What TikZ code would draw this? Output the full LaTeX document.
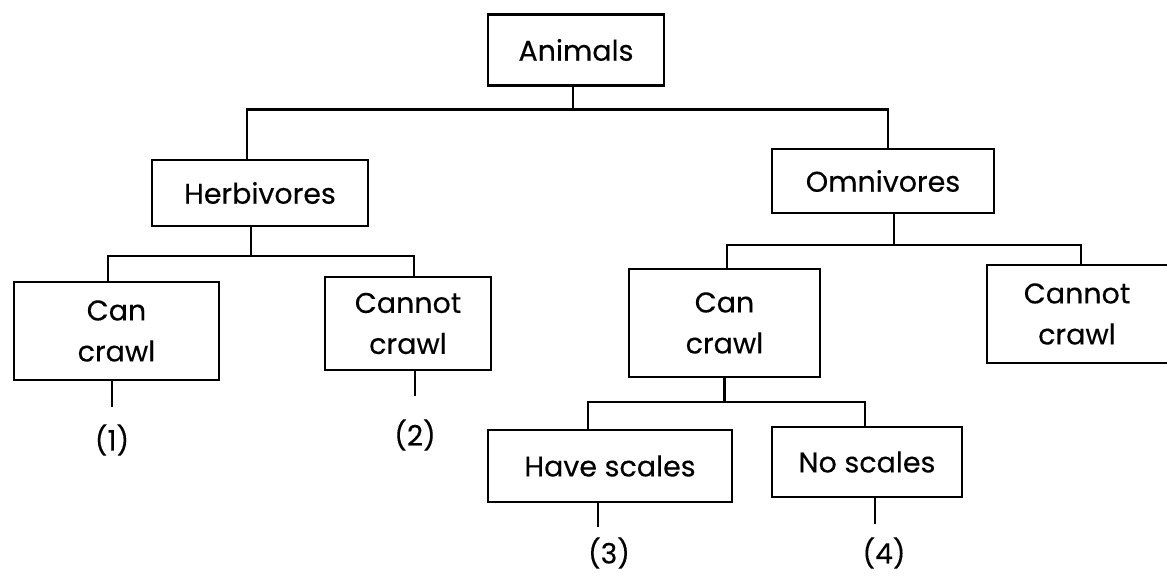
\documentclass[tikz,border=0pt]{standalone}
\usepackage{fontspec}
\setmainfont{Poppins}[FakeBold=0.3]
\begin{document}
\begin{tikzpicture}[x=1pt,y=-1pt,
  box/.style={draw, line width=2.3pt, rectangle, inner sep=0pt, align=center,
    font=\fontsize{28.5}{41}\selectfont},
  openbox/.style={rectangle, inner sep=0pt, align=center,
    font=\fontsize{28.5}{41}\selectfont},
  lbl/.style={inner sep=0pt, font=\fontsize{28}{40}\selectfont},
  conn/.style={line width=2.5pt}]
\useasboundingbox (0,0) rectangle (1167,576);

% boxes
\node[box, minimum width=176pt, minimum height=71pt] (ani) at (576,50) {Animals};
\node[box, minimum width=216pt, minimum height=66pt] (herb) at (260,193) {Herbivores};
\node[box, minimum width=222pt, minimum height=64pt] (omn) at (883,181) {Omnivores};
\node[box, minimum width=205pt, minimum height=98pt] (canL) at (116.5,331) {Can\\crawl};
\node[box, minimum width=166pt, minimum height=93pt] (cannotL) at (408,323.5) {Cannot\\crawl};
\node[box, minimum width=191pt, minimum height=108pt] (canM) at (724.5,323) {Can\\crawl};
\node[openbox, minimum width=180pt, minimum height=98pt] (cannotR) at (1077,314) {Cannot\\crawl};
\draw[line width=2.3pt] (cannotR.north east) -- (cannotR.north west) -- (cannotR.south west) -- (cannotR.south east);
\node[box, minimum width=244pt, minimum height=72pt] (have) at (610,466) {Have scales};
\node[box, minimum width=190pt, minimum height=70pt] (nosc) at (867,462) {No scales};

% leaf labels
\node[lbl] (l1) at (112,440) {(1)};
\node[lbl] (l2) at (415,435) {(2)};
\node[lbl] (l3) at (609,553) {(3)};
\node[lbl] (l4) at (884,553) {(4)};

% connectors
\draw[conn] ([xshift=-3pt]ani.south) -- ++(0,23) coordinate (a1);
\draw[conn] ([xshift=-13pt]herb.north) |- (a1) -| ([xshift=5pt]omn.north);

\draw[conn] ([xshift=-9pt]herb.south) -- ++(0,29) coordinate (h1);
\draw[conn] ([xshift=-8.5pt]canL.north) |- (h1) -| ([xshift=6pt]cannotL.north);

\draw[conn] ([xshift=11pt]omn.south) -- ++(0,31) coordinate (o1);
\draw[conn] ([xshift=2.5pt]canM.north) |- (o1) -| ([xshift=4pt]cannotR.north);

\draw[conn] (canM.south) -- ++(0,24) coordinate (c1);
\draw[conn] ([xshift=-22pt]have.north) |- (c1) -| ([xshift=-2pt]nosc.north);

% leaf stems
\draw[conn] ([xshift=-4.5pt]canL.south) -- ++(0,26) coordinate (s1);
\draw[conn] ([xshift=7pt]cannotL.south) -- ++(0,25) coordinate (s2);
\draw[conn] ([xshift=-12pt]have.south) -- ++(0,24) coordinate (s3);
\draw[conn] ([xshift=8pt]nosc.south) -- ++(0,26) coordinate (s4);
\end{tikzpicture}
\end{document}
